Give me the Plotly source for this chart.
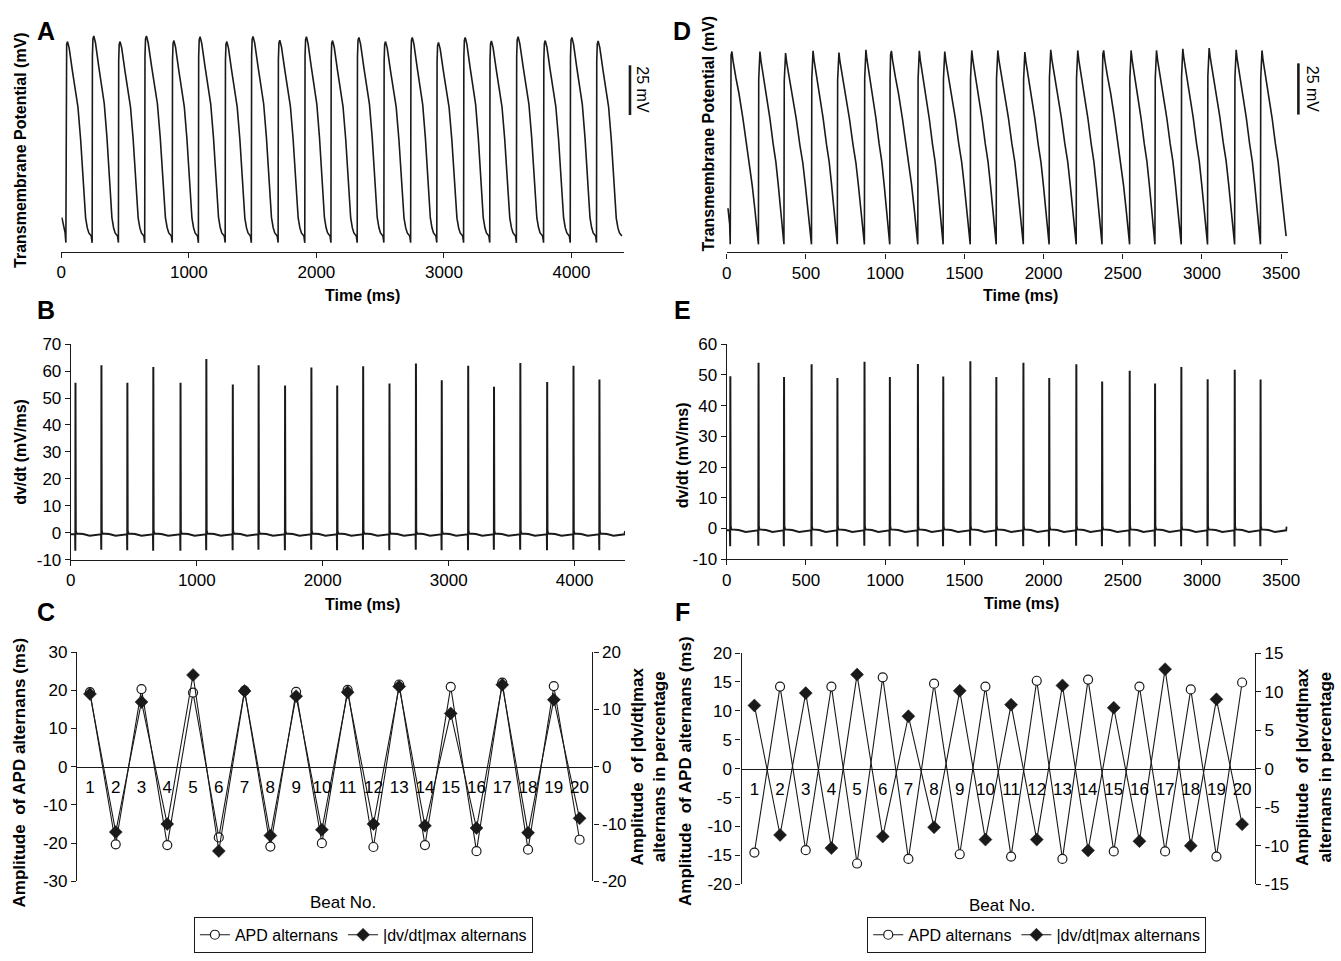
import numpy as np
import plotly.graph_objects as go

W, H = 1341, 961

# ---------------- values ----------------
# Panel A: action potentials, upstroke times (ms) and peak (mV above rest)
A_ONSETS = [36, 242, 448, 654, 870, 1075, 1285, 1490, 1700, 1909, 2114,
            2320, 2529, 2739, 2944, 3154, 3359, 3568, 3781, 3990, 4196]
A_PEAKS = [96.9, 99.7, 96.9, 99.7, 97.4, 99.3, 96.9, 99.5, 97.6, 99.3, 97.4,
           99.0, 96.9, 99.0, 96.5, 99.0, 97.2, 99.3, 97.4, 99.0, 97.2]
A_PREV_ONSET = -150
A_END = 4405
# AP shape knots read from one beat: fraction of cycle / fraction of peak
A_SHAPE_T = [0.0, 0.010, 0.030, 0.063, 0.100, 0.126, 0.250, 0.374, 0.460,
             0.563, 0.665, 0.752, 0.816, 0.874, 0.966]
A_SHAPE_V = [-0.042, 0.90, 0.985, 1.0, 0.98, 0.966, 0.847, 0.737, 0.66,
             0.49, 0.288, 0.085, 0.034, 0.008, -0.008]

# Panel D
D_ONSETS = [22, 200, 361, 535, 698, 869, 1029, 1206, 1366, 1537, 1701,
            1872, 2035, 2206, 2369, 2543, 2703, 2869, 3035, 3206, 3369]
D_PEAKS = [90.8, 90.8, 90.0, 91.1, 90.3, 91.6, 91.1, 91.1, 90.8, 91.3, 91.3,
           90.5, 91.6, 91.3, 91.3, 91.3, 91.3, 92.1, 92.5, 91.6, 91.3]
D_PREV_ONSET = -147
D_END = 3532
D_SHAPE_T = [0.0, 0.012, 0.030, 0.060, 0.100, 0.200, 0.310, 0.450, 0.580,
             0.685, 0.780, 0.870, 0.930, 0.958, 0.994]
D_SHAPE_V = [-0.037, 0.85, 0.98, 1.0, 0.95, 0.86, 0.774, 0.64, 0.50,
             0.405, 0.28, 0.157, 0.07, 0.033, 0.007]

# Panel B: dv/dt spikes (mV/ms) at the A upstrokes
B_PEAKS = [55.7, 62.2, 55.7, 61.5, 55.7, 64.5, 55.0, 62.2, 54.7, 61.4, 54.7,
           61.8, 55.4, 62.8, 56.6, 62.0, 54.2, 63.0, 56.0, 62.0, 56.9]
B_DIPS = [-6.7, -6.3, -6.5, -6.7, -6.7, -6.5, -6.5, -6.3, -6.5, -6.3, -6.5,
          -6.3, -6.5, -6.3, -6.5, -6.5, -6.3, -6.3, -6.5, -6.3, -6.5]
B_END = 4400
# Panel E: dv/dt spikes at the D upstrokes
E_PEAKS = [49.6, 54.0, 49.3, 53.5, 49.0, 54.3, 49.3, 53.6, 49.5, 54.5, 49.3,
           54.0, 49.0, 53.5, 47.9, 51.4, 47.2, 52.6, 48.6, 51.7, 48.5]
E_DIPS = [-5.8, -5.6, -5.8, -5.8, -5.9, -5.6, -5.8, -5.9, -5.8, -5.6, -5.8,
          -5.8, -5.9, -5.6, -5.8, -5.9, -5.9, -5.8, -5.8, -5.9, -5.8]
E_END = 3535
# baseline of the dv/dt traces: fraction of cycle / level (mV/ms)
DVDT_BASE_T = [0.015, 0.04, 0.30, 0.55, 0.80, 0.98]
DVDT_BASE_V = [0.8, -0.3, -0.5, -1.1, -0.7, -0.6]

# Panels C and F: alternans amplitudes per beat
BEATS = list(range(1, 21))
C_APD = [19.5, -20.3, 20.3, -20.5, 19.4, -18.5, 19.9, -20.9, 19.6, -20.0,
         20.1, -21.0, 21.5, -20.5, 20.9, -22.1, 22.0, -21.7, 21.1, -19.1]
C_DVDT = [12.7, -11.4, 11.3, -10.0, 16.0, -14.7, 13.2, -12.0, 12.3, -11.0,
          13.0, -10.0, 14.0, -10.3, 9.3, -10.7, 14.3, -11.5, 11.7, -9.0]
F_APD = [-14.5, 14.2, -14.1, 14.2, -16.4, 15.8, -15.6, 14.7, -14.8, 14.2,
         -15.2, 15.2, -15.6, 15.4, -14.3, 14.2, -14.3, 13.7, -15.2, 14.9]
F_DVDT = [8.2, -8.6, 9.8, -10.3, 12.2, -8.8, 6.8, -7.6, 10.1, -9.2,
          8.3, -9.2, 10.8, -10.6, 7.9, -9.4, 12.9, -10.0, 9.0, -7.2]

SCALEBAR_MV = (60, 85)

A_XTICKS = [0, 1000, 2000, 3000, 4000]
D_XTICKS = [0, 500, 1000, 1500, 2000, 2500, 3000, 3500]

# ---------------- helpers ----------------
def ap_curve(onsets, peaks, prev_onset, t_end, sh_t, sh_v):
    cyc = list(np.diff(onsets))
    cycles = [cyc[0]] + cyc + [cyc[-1]]
    starts = [prev_onset] + list(onsets)
    ends = list(onsets) + [t_end]
    pks = [peaks[1]] + list(peaks)
    xs, ys = [], []
    for s, e, p, c in zip(starts, ends, pks, cycles):
        for f, v in zip(sh_t, sh_v):
            t = s + f * c
            if 0 <= t < e and t <= t_end:
                xs.append(t)
                ys.append(v * p)
    return xs, ys


def dvdt_curve(onsets, peaks, dips, t_end):
    cyc = list(np.diff(onsets)) + [t_end - onsets[-1]]
    xs, ys = [0.0], [DVDT_BASE_V[-1]]
    for on, p, d, c in zip(onsets, peaks, dips, cyc):
        xs += [on - 2.0, on - 0.4, on + 0.8]
        ys += [DVDT_BASE_V[-1], d, p]
        for f, v in zip(DVDT_BASE_T, DVDT_BASE_V):
            t = on + f * c
            if t <= t_end:
                xs.append(t)
                ys.append(v)
    xs.append(t_end)
    ys.append(0.6)
    return xs, ys


def px(x):
    return x / W


def py(y):
    return 1 - y / H


FONT = "Liberation Sans Narrow, Arial Narrow, Liberation Sans, Arial"
BFONT = "Liberation Sans, Arial"
LC = "#1a1a1a"
# show negative tick labels with a plain hyphen, as in the reference
MINUS = {"\u2212%d" % v: "-%d" % v for v in (5, 10, 15, 20, 25, 30)}

fig = go.Figure()

# ---------------- traces ----------------
ax, ay = ap_curve(A_ONSETS, A_PEAKS, A_PREV_ONSET, A_END, A_SHAPE_T, A_SHAPE_V)
fig.add_trace(go.Scatter(x=ax, y=ay, mode="lines", line=dict(color=LC, width=1.6),
                         xaxis="x", yaxis="y", showlegend=False, hoverinfo="skip"))
dx, dy = ap_curve(D_ONSETS, D_PEAKS, D_PREV_ONSET, D_END, D_SHAPE_T, D_SHAPE_V)
fig.add_trace(go.Scatter(x=dx, y=dy, mode="lines", line=dict(color=LC, width=1.6),
                         xaxis="x2", yaxis="y2", showlegend=False, hoverinfo="skip"))
bx, by = dvdt_curve(A_ONSETS, B_PEAKS, B_DIPS, B_END)
fig.add_trace(go.Scatter(x=bx, y=by, mode="lines", line=dict(color=LC, width=2.0),
                         xaxis="x3", yaxis="y3", showlegend=False, hoverinfo="skip"))
ex, ey = dvdt_curve(D_ONSETS, E_PEAKS, E_DIPS, E_END)
fig.add_trace(go.Scatter(x=ex, y=ey, mode="lines", line=dict(color=LC, width=2.0),
                         xaxis="x4", yaxis="y4", showlegend=False, hoverinfo="skip"))

circ = dict(symbol="circle", size=9, color="white", line=dict(color=LC, width=1.2))
diam = dict(symbol="diamond", size=10, color=LC, line=dict(color=LC, width=0.5))
for xa, ya_l, ya_r, apd, dv, lg in [("x5", "y5", "y6", C_APD, C_DVDT, "legend"),
                                    ("x6", "y8", "y9", F_APD, F_DVDT, "legend2")]:
    fig.add_trace(go.Scatter(x=BEATS, y=apd, mode="lines+markers", name="APD alternans",
                             line=dict(color=LC, width=1.1), marker=circ,
                             xaxis=xa, yaxis=ya_l, legend=lg, hoverinfo="skip"))
    fig.add_trace(go.Scatter(x=BEATS, y=dv, mode="lines+markers", name="|dv/dt|max alternans",
                             line=dict(color=LC, width=1.1), marker=diam,
                             xaxis=xa, yaxis=ya_r, legend=lg, hoverinfo="skip"))

# ---------------- axes ----------------
tickfont = dict(family=FONT, size=17, color="black")
line_ax = dict(showline=True, linecolor=LC, linewidth=1.3, showgrid=False, zeroline=False,
               ticks="outside", ticklen=5, tickcolor=LC, tickwidth=1.3, tickfont=tickfont,
               labelalias=MINUS)

A_YR = [-8.7, 104.9]
D_YR = [-7.3, 103.4]
lay = dict(
    width=W, height=H, margin=dict(l=0, r=0, t=0, b=0),
    paper_bgcolor="white", plot_bgcolor="rgba(0,0,0,0)",
    font=dict(family=FONT, color="black"),
    # A
    xaxis=dict(domain=[px(57), px(627)], range=[0, 4412], anchor="y",
               tickvals=A_XTICKS, **line_ax),
    yaxis=dict(domain=[py(247.7), py(17)], range=A_YR, anchor="x", visible=False),
    # D
    xaxis2=dict(domain=[px(731), px(1299)], range=[0, 3540], anchor="y2",
                tickvals=D_XTICKS, **line_ax),
    yaxis2=dict(domain=[py(248.3), py(17)], range=D_YR, anchor="x2", visible=False),
    # B
    xaxis3=dict(domain=[px(66.7), px(628)], range=[0, 4400], anchor="y3",
                tickvals=A_XTICKS, **line_ax),
    yaxis3=dict(domain=[py(561.7), py(342)], range=[-10, 70], anchor="x3",
                dtick=10, **line_ax),
    # E
    xaxis4=dict(domain=[px(731), px(1299)], range=[0, 3540], anchor="y4",
                tickvals=D_XTICKS, **line_ax),
    yaxis4=dict(domain=[py(561.3), py(342)], range=[-10, 60], anchor="x4",
                dtick=10, **line_ax),
)

for xa, yl, yr, yr2, xd, yd, lr, rr in [
        ("xaxis5", "yaxis5", "yaxis6", "yaxis7", [73, 595], [890, 656], [-30, 30], [-20, 20]),
        ("xaxis6", "yaxis8", "yaxis9", "yaxis10", [746, 1266], [893, 657], [-20, 20], [-15, 15])]:
    ydom = [py(yd[0]), py(yd[1])]
    xid = "x" + xa[5:]
    yid = "y" + yl[5:]
    lay[xa] = dict(domain=[px(xd[0]), px(xd[1])], range=[0.5, 20.5], anchor="free",
                   position=(ydom[0] + ydom[1]) / 2, showline=True, linecolor=LC,
                   linewidth=1.2, showgrid=False, zeroline=False, ticks="",
                   tickvals=BEATS, ticktext=[str(b) for b in BEATS],
                   tickfont=dict(family=FONT, size=17, color="black"),
                   ticklabelstandoff=5)
    lay[yl] = dict(domain=ydom, range=lr, anchor=xid, dtick=10 if lr[1] == 30 else 5,
                   **line_ax)
    lay[yr] = dict(overlaying=yid, side="right", anchor=xid, range=rr,
                   dtick=10 if rr[1] == 20 else 5, **line_ax)
    lay[yr2] = dict(overlaying=yid, side="right", anchor=xid, range=rr,
                    dtick=10 if rr[1] == 20 else 5, showline=False, showgrid=False,
                    zeroline=False, ticks="inside", ticklen=5, tickcolor=LC,
                    tickwidth=1.3, showticklabels=False)

lay["legend"] = dict(orientation="h", x=px(363), y=py(944.5), xanchor="center",
                     yanchor="middle", bordercolor=LC, borderwidth=1,
                     font=dict(family=FONT, size=16, color="black"),
                     itemwidth=30, tracegroupgap=0, bgcolor="white")
lay["legend2"] = dict(orientation="h", x=px(1045), y=py(944.5), xanchor="center",
                      yanchor="middle", bordercolor=LC, borderwidth=1,
                      font=dict(family=FONT, size=16, color="black"),
                      itemwidth=30, tracegroupgap=0, bgcolor="white")
fig.update_layout(**lay)

# ---------------- text ----------------
ann = []


def text(x, y, s, size=16, bold=False, angle=0, fam=None):
    ann.append(dict(x=px(x), y=py(y), xref="paper", yref="paper", text=s,
                    showarrow=False, textangle=angle, xanchor="center", yanchor="middle",
                    font=dict(family=fam or (BFONT if bold else FONT), size=size,
                              color="black")))


for lbl, x, y in [("A", 42, 22), ("D", 686, 22), ("B", 42, 307), ("E", 686, 307),
                  ("C", 42, 615), ("F", 686, 615)]:
    text(x, y, "<b>%s</b>" % lbl, size=25, fam=BFONT)

text(15, 144, "<b>Transmembrane Potential (mV)</b>", 16, True, -90)
text(713, 127, "<b>Transmembrane Potential (mV)</b>", 16, True, -90)
text(362, 292, "<b>Time (ms)</b>", 16, True)
text(1029, 292, "<b>Time (ms)</b>", 16, True)
text(15, 452, "<b>dv/dt (mV/ms)</b>", 16, True, -90)
text(686, 455, "<b>dv/dt (mV/ms)</b>", 16, True, -90)
text(362, 608, "<b>Time (ms)</b>", 16, True)
text(1030, 607, "<b>Time (ms)</b>", 16, True)
text(15, 779, "<b>Amplitude  of APD alternans (ms)</b>", 17, True, -90)
text(689, 777, "<b>Amplitude  of APD alternans (ms)</b>", 17, True, -90)
text(652, 773, "<b>Amplitude  of |dv/dt|max<br>alternans in percentage</b>", 17, True, -90)
text(1326, 773, "<b>Amplitude  of |dv/dt|max<br>alternans in percentage</b>", 17, True, -90)
text(342, 912, "Beat No.", 17)
text(1010, 915, "Beat No.", 17)

# scale bars (25 mV) drawn in data units of the AP panels
shapes = []
for yname, yr, xbar, xtxt in [("y", A_YR, 633, 646), ("y2", D_YR, 1310, 1324)]:
    f0 = (SCALEBAR_MV[0] - yr[0]) / (yr[1] - yr[0])
    f1 = (SCALEBAR_MV[1] - yr[0]) / (yr[1] - yr[0])
    shapes.append(dict(type="line", xref="paper", yref=yname + " domain",
                       x0=px(xbar), x1=px(xbar), y0=f0, y1=f1,
                       line=dict(color=LC, width=2.6)))
    ann.append(dict(x=px(xtxt), y=(f0 + f1) / 2, xref="paper", yref=yname + " domain",
                    text="25 mV", textangle=90, showarrow=False,
                    xanchor="center", yanchor="middle",
                    font=dict(family=BFONT, size=16, color="black")))

fig.update_layout(annotations=ann, shapes=shapes)
fig.write_html("out.html", config={"displayModeBar": False},
               post_script="document.body.style.margin='0px';"
                           "document.body.style.overflow='hidden';")
